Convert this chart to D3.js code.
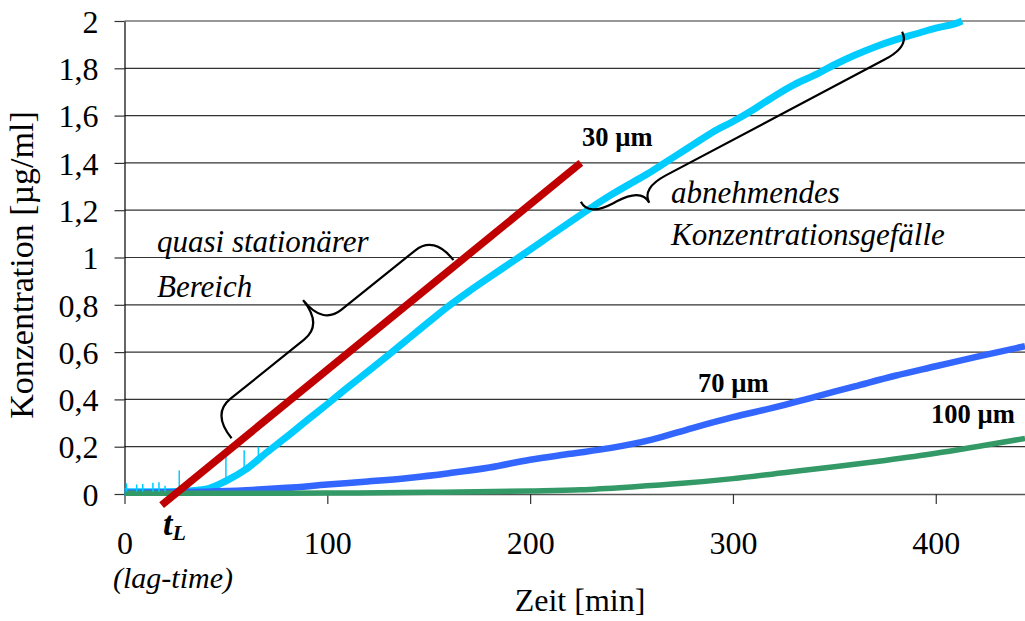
<!DOCTYPE html>
<html>
<head>
<meta charset="utf-8">
<script src="https://cdn.jsdelivr.net/npm/d3@7"></script>
<style>
  html, body { margin: 0; padding: 0; background: #fff; }
  svg { display: block; font-family: "Liberation Serif", "Times New Roman", serif; }
</style>
</head>
<body>
<svg id="chart" width="1025" height="621"></svg>
<script>
// Axis ticks
const xTicks = [0, 100, 200, 300, 400];
const yTicks = [0, 0.2, 0.4, 0.6, 0.8, 1.0, 1.2, 1.4, 1.6, 1.8, 2.0];
const yTickLabels = ["0", "0,2", "0,4", "0,6", "0,8", "1", "1,2", "1,4", "1,6", "1,8", "2"];

// 30 µm membrane: time [min] and concentration [µg/ml]
const time30 = [0, 10, 20, 30, 40, 50, 60, 70, 80, 90, 100, 110, 120, 130, 140, 150, 160, 170, 180, 190,
                200, 210, 220, 230, 240, 250, 260, 270, 280, 290, 300, 310, 320, 330, 340, 350, 360, 370,
                380, 390, 400, 410, 413];
const conc30 = [0.01, 0.01, 0.01, 0.012, 0.02, 0.055, 0.105, 0.175, 0.242, 0.312, 0.38, 0.45, 0.518, 0.587,
                0.657, 0.727, 0.796, 0.858, 0.917, 0.975, 1.033, 1.093, 1.152, 1.21, 1.265, 1.315, 1.365,
                1.42, 1.475, 1.53, 1.575, 1.625, 1.68, 1.73, 1.77, 1.815, 1.855, 1.89, 1.92, 1.945, 1.97,
                1.99, 2.0];
// isolated spikes of the 30 µm signal near the start
const spikeTime30 = [1, 6, 9, 14, 17, 20, 27, 50, 59, 66];
const spikeConc30 = [0.045, 0.04, 0.042, 0.048, 0.05, 0.035, 0.10, 0.16, 0.185, 0.2];

// 70 µm membrane
const time70 = [0, 20, 40, 60, 80, 100, 120, 140, 160, 180, 200, 220, 240, 260, 280, 300, 320, 340, 360,
                380, 400, 420, 444];
const conc70 = [0.005, 0.007, 0.01, 0.016, 0.026, 0.04, 0.053, 0.068, 0.088, 0.112, 0.145, 0.17, 0.195,
                0.23, 0.279, 0.325, 0.365, 0.41, 0.455, 0.5, 0.54, 0.58, 0.625];

// 100 µm membrane
const time100 = [0, 50, 100, 150, 200, 225, 250, 275, 300, 325, 350, 375, 400, 420, 444];
const conc100 = [0.003, 0.003, 0.004, 0.007, 0.013, 0.018, 0.03, 0.045, 0.065, 0.09, 0.115, 0.142, 0.172,
                 0.2, 0.235];

// Tangent through the quasi-stationary range; its zero crossing is the lag time
const lagLineTime = [18.3, 225];
const lagLineConc = [-0.047, 1.40];

// Brace end points (time, concentration)
const braceStationary = [[52.8, 0.2355], [162.2, 0.989]];
const braceDecreasing = [[225, 1.236], [383.4, 1.955]];

const svg = d3.select("#chart");
const x = d3.scaleLinear().domain([0, 444]).range([124.5, 1025]);
const y = d3.scaleLinear().domain([0, 2]).range([494, 21]);

// Horizontal grid
svg.append("g")
  .selectAll("line")
  .data(yTicks.slice(1))
  .join("line")
  .attr("x1", x(0)).attr("x2", x(444))
  .attr("y1", d => y(d)).attr("y2", d => y(d))
  .attr("stroke", "#333").attr("stroke-width", 1.2);

// Y axis
const yAxis = svg.append("g")
  .attr("transform", `translate(${x(0)},0)`)
  .call(d3.axisLeft(y).tickValues(yTicks).tickSize(10).tickSizeOuter(0)
        .tickFormat((d, i) => yTickLabels[i]));
yAxis.select(".domain").attr("stroke", "#000").attr("stroke-width", 1.2);
yAxis.selectAll(".tick line").attr("stroke", "#333").attr("stroke-width", 1.2);
yAxis.selectAll(".tick text")
  .attr("x", -26).attr("dy", "0.35em")
  .attr("font-size", 32).attr("font-family", "Liberation Serif").attr("fill", "#000");

// X axis
const xAxis = svg.append("g")
  .attr("transform", `translate(0,${y(0)})`)
  .call(d3.axisBottom(x).tickValues(xTicks).tickSize(10).tickSizeOuter(0));
xAxis.select(".domain").attr("stroke", "#555").attr("stroke-width", 1.4);
xAxis.selectAll(".tick line").attr("stroke", "#333").attr("stroke-width", 1.2);
xAxis.selectAll(".tick text")
  .attr("y", 60).attr("dy", 0)
  .attr("font-size", 32).attr("font-family", "Liberation Serif").attr("fill", "#000");

// Axis titles
svg.append("text")
  .attr("x", 580).attr("y", 611)
  .attr("text-anchor", "middle").attr("font-size", 32)
  .text("Zeit [min]");
svg.append("text")
  .attr("transform", "translate(33,265) rotate(-90)")
  .attr("text-anchor", "middle").attr("font-size", 34)
  .text("Konzentration [µg/ml]");

// Measured curves
const line = d3.line().curve(d3.curveMonotoneX).x(d => x(d[0])).y(d => y(d[1]));
const series = [
  { t: time30, c: conc30, color: "#00ccff", w: 7 },
  { t: time70, c: conc70, color: "#3366ff", w: 6.5 },
  { t: time100, c: conc100, color: "#339966", w: 5.5 }
];
const curves = svg.append("g").attr("fill", "none").attr("stroke-linejoin", "round");
series.forEach(s => {
  curves.append("path")
    .datum(s.t.map((t, i) => [t, s.c[i]]))
    .attr("d", line)
    .attr("stroke", s.color)
    .attr("stroke-width", s.w);
});

// Spikes on the 30 µm signal
const base30 = t => {
  const i = d3.bisectRight(time30, t) - 1;
  const t0 = time30[i], t1 = time30[i + 1];
  return conc30[i] + (conc30[i + 1] - conc30[i]) * (t - t0) / (t1 - t0);
};
svg.append("g")
  .selectAll("line")
  .data(spikeTime30.map((t, i) => [t, spikeConc30[i]]))
  .join("line")
  .attr("x1", d => x(d[0])).attr("x2", d => x(d[0]))
  .attr("y1", d => y(base30(d[0]))).attr("y2", d => y(d[1]))
  .attr("stroke", "#00ccff").attr("stroke-width", 1.5);

// Lag-time tangent
svg.append("line")
  .attr("x1", x(lagLineTime[0])).attr("y1", y(lagLineConc[0]))
  .attr("x2", x(lagLineTime[1])).attr("y2", y(lagLineConc[1]))
  .attr("stroke", "#c00000").attr("stroke-width", 7.5);

// Curly brace between two screen points; w = depth, f = position of the tip, r = curl length
function bracePath(p1, p2, w, f, r, side) {
  const dx = p2[0] - p1[0], dy = p2[1] - p1[1];
  const len = Math.hypot(dx, dy);
  const ux = dx / len, uy = dy / len;
  const nx = side * uy, ny = -side * ux;
  const P = (a, b) => [p1[0] + ux * a + nx * b, p1[1] + uy * a + ny * b];
  const c = f * len, h = w / 2;
  const p = d3.path();
  p.moveTo(...P(0, 0));
  p.quadraticCurveTo(...P(0, h), ...P(r, h));
  p.lineTo(...P(c - r, h));
  p.quadraticCurveTo(...P(c, h), ...P(c, w));
  p.quadraticCurveTo(...P(c, h), ...P(c + r, h));
  p.lineTo(...P(len - r, h));
  p.quadraticCurveTo(...P(len, h), ...P(len, 0));
  return p.toString();
}
const toScreen = d => [x(d[0]), y(d[1])];
svg.append("path")
  .attr("d", bracePath(toScreen(braceStationary[0]), toScreen(braceStationary[1]), 63, 0.5, 24, 1))
  .attr("fill", "none").attr("stroke", "#000").attr("stroke-width", 2.2);
svg.append("path")
  .attr("d", bracePath(toScreen(braceDecreasing[0]), toScreen(braceDecreasing[1]), 33, 0.165, 28, -1))
  .attr("fill", "none").attr("stroke", "#000").attr("stroke-width", 2.2);

// Annotations
const notes = svg.append("g").attr("font-size", 31).attr("font-style", "italic");
notes.append("text").attr("x", 157).attr("y", 251.5).text("quasi stationärer");
notes.append("text").attr("x", 157).attr("y", 296.5).text("Bereich");
notes.append("text").attr("x", 671).attr("y", 203).text("abnehmendes");
notes.append("text").attr("x", 671).attr("y", 245).text("Konzentrationsgefälle");
notes.append("text").attr("x", 113).attr("y", 588).attr("font-size", 30).text("(lag-time)");

const tl = svg.append("text").attr("x", 163).attr("y", 535)
  .attr("font-weight", "bold").attr("font-style", "italic").attr("font-size", 34);
tl.append("tspan").text("t");
tl.append("tspan").attr("font-size", 22).attr("dy", 5).text("L");

const sizes = svg.append("g").attr("font-size", 26.5).attr("font-weight", "bold");
sizes.append("text").attr("x", 582).attr("y", 145.5).text("30 µm");
sizes.append("text").attr("x", 698).attr("y", 391.5).text("70 µm");
sizes.append("text").attr("x", 931).attr("y", 423).text("100 µm");
</script>
</body>
</html>
